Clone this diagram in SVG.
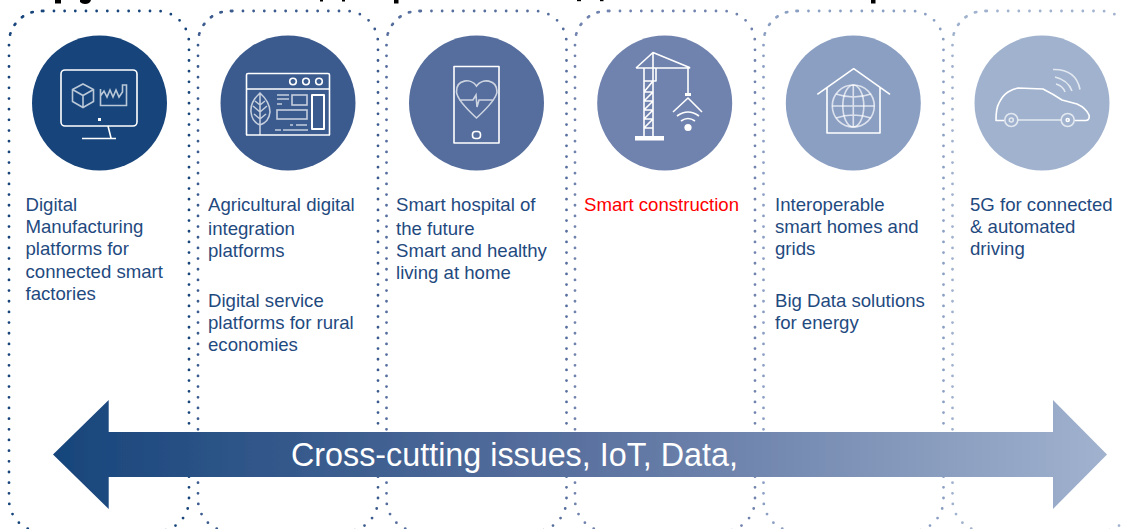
<svg xmlns="http://www.w3.org/2000/svg" width="1121" height="529" viewBox="0 0 1121 529">
<style>
text{font-family:"Liberation Sans",Arial,sans-serif}
.t{font-size:18.600px;fill:#1f4a80}
.d{fill:none;stroke-width:2.800;stroke-linecap:round;stroke-dasharray:0 10.67}
.i{fill:none;stroke:#fff;stroke-width:1.600;stroke-linejoin:round}
.s{fill:none;stroke:#fff;stroke-width:1.600;opacity:.7;filter:url(#soft)}
.w{fill:#fff}
.k{fill:#000}
</style>
<defs>
<path id="frame" d="M34.300 0H148A32 32 0 0 1 180 32V488.500A32 32 0 0 1 148 520.500H32A32 32 0 0 1 0 488.500V32A32 32 0 0 1 32 0ZM34.300 0H32A32 32 0 0 0 0 32"/>
<linearGradient id="ag" x1="53" x2="1107" y1="0" y2="0" gradientUnits="userSpaceOnUse">
<stop offset="0" stop-color="#17457b"/><stop offset=".5" stop-color="#5a719f"/><stop offset="1" stop-color="#a0b2ce"/>
</linearGradient>
<filter id="soft" x="-10%" y="-10%" width="120%" height="120%"><feGaussianBlur stdDeviation=".4"/></filter>
</defs>
<g id="title-fragments">
<rect class="k" x="55" y="0" width="6" height="3.500"/>
<path class="k" d="M80 0H91Q90 4 85 4Q82 4 80 2Z"/>
<rect class="k" x="320" y="0" width="3" height="1.500"/>
<rect class="k" x="342" y="0" width="3" height="1.500"/>
<rect class="k" x="394" y="0" width="4.500" height="3.500"/>
<rect class="k" x="577" y="0" width="4" height="1.200"/>
<rect class="k" x="600" y="0" width="3.500" height="1.200"/>
<rect class="k" x="871" y="0" width="4.500" height="3.500"/>
</g>
<g id="panel-1">
<use href="#frame" x="9" y="11" class="d" stroke="#17457b"/>
<circle cx="99.500" cy="103" r="67.500" fill="#17457b"/>
<rect class="i" x="61" y="70" width="76" height="56" rx="4"/>
<path class="i" d="M108 126L111 138M82 138.500H116"/>
<rect class="w" x="98" y="118" width="3" height="3"/>
<path class="s" d="M83 84L93.500 89.500V101.500L83 107.500L72.500 101.500V89.500ZM72.500 89.500L83 95.500L93.500 89.500M83 95.500V107.500"/>
<path class="s" d="M100.500 105.500H126.500V85H122.500V92L119 97L116 90L113 97L110 90L107 97L104 91L100.500 96V89ZM100.500 96V105.500"/>
<text class="t"><tspan x="25.500" y="211">Digital</tspan><tspan x="25.500" y="233">Manufacturing</tspan><tspan x="25.500" y="255">platforms for</tspan><tspan x="25.500" y="278">connected smart</tspan><tspan x="25.500" y="300">factories</tspan></text>
</g>
<g id="panel-2">
<use href="#frame" x="198" y="11" class="d" stroke="#3b5a8e"/>
<circle cx="288" cy="103" r="67.500" fill="#3b5a8e"/>
<path class="i" d="M246.500 89V75Q246.500 73.500 248 73.500H328Q329.500 73.500 329.500 75V135M246.500 89V135M246 89H330M246 135H330"/>
<circle class="i" cx="293" cy="81.500" r="3.300"/><circle class="i" cx="306" cy="81.500" r="3.300"/><circle class="i" cx="319" cy="81.500" r="3.300"/>
<rect class="i" x="312" y="95" width="12" height="34" style="stroke-width:2"/>
<path class="s" d="M260 93Q250 102 251 112Q252 122 260 125Q269 122 270 112Q270 102 260 93ZM260 93V135M260 105L265 101M260 112L267 106M260 119L266 114M260 105L255 101M260 112L253 106M260 119L254 114"/>
<rect class="s" x="292" y="95" width="15" height="10"/><rect class="s" x="277" y="110" width="30" height="9"/>
<path class="s" d="M277 95H289M277 99H289M277 104H282M275 130H281M283 130H308M290 125H293M296 125H307"/>
<text class="t"><tspan x="208" y="211">Agricultural digital</tspan><tspan x="208" y="235">integration</tspan><tspan x="208" y="257">platforms</tspan><tspan x="208" y="307">Digital service</tspan><tspan x="208" y="329">platforms for rural</tspan><tspan x="208" y="351">economies</tspan></text>
</g>
<g id="panel-3">
<use href="#frame" x="386.500" y="11" class="d" stroke="#566e9d"/>
<circle cx="476.500" cy="103" r="67.500" fill="#566e9d"/>
<rect class="i" x="454" y="66.500" width="45" height="76.500"/>
<rect class="i" x="472.500" y="131.500" width="8" height="7" rx="3"/>
<path class="s" d="M476.500 86C471 78 456 79 456.500 92Q457 100 476.500 118Q496 100 497 92C497 79 482 78 476.500 86ZM459 100H473L476 95L477 107L479 100H494"/>
<text class="t"><tspan x="396" y="211">Smart hospital of</tspan><tspan x="396" y="235">the future</tspan><tspan x="396" y="257">Smart and healthy</tspan><tspan x="396" y="279">living at home</tspan></text>
</g>
<g id="panel-4">
<use href="#frame" x="575" y="11" class="d" stroke="#7082ae"/>
<circle cx="664.700" cy="103" r="67.500" fill="#7082ae"/>
<path class="i" d="M636 68L653 52.500L689.500 67.500V68H636M653 52.500V137M644 68V137M644 81H656V68M644 92L653 81M644 92H653M644 101L653 92M644 101H653M644 110L653 101M644 110H653M644 119L653 110M644 119H653M644 128L653 119M644 128H653M688 68V94M673 112L688 98L702 112"/>
<rect class="w" x="635" y="136" width="29" height="4.500"/>
<rect class="w" x="685" y="93" width="6" height="3"/>
<path class="i" d="M677 116Q688 108 699 116M681 121Q688 116 695 121"/>
<circle class="w" cx="688" cy="127.500" r="3.600"/>
<text x="584" y="211" class="t" style="fill:#f00">Smart construction</text>
</g>
<g id="panel-5">
<use href="#frame" x="763.500" y="11" class="d" stroke="#8b9fc3"/>
<circle cx="853.300" cy="103" r="67.500" fill="#8b9fc3"/>
<path class="i" d="M817.300 94.300L853.700 68.700L890 94.300M827 87V133H880V87"/>
<circle class="s" cx="853.300" cy="106" r="21"/><ellipse class="s" cx="853.300" cy="106" rx="10.500" ry="21"/><path class="s" d="M853.300 85V127M832.300 106H874.300M836 94Q853.300 100 871 94M836 118Q853.300 112 871 118"/>
<text class="t"><tspan x="775" y="211">Interoperable</tspan><tspan x="775" y="233">smart homes and</tspan><tspan x="775" y="255">grids</tspan><tspan x="775" y="307">Big Data solutions</tspan><tspan x="775" y="329">for energy</tspan></text>
</g>
<g id="panel-6">
<use href="#frame" x="952.500" y="11" class="d" stroke="#a0b2ce"/>
<circle cx="1042" cy="103" r="67.500" fill="#a0b2ce"/>
<path class="i" d="M1004 120.500H996Q996 108 999 103Q1003 95 1008 92Q1013 89 1018 88L1043 89Q1053 94 1062 100L1077 104Q1086 108 1089 115Q1090 120 1086 120.500H1075"/>
<path class="s" d="M1018 120H1061M1053 69.500Q1076 69 1080 89.500M1055 77Q1068 80 1072 91M1056 84Q1063 86 1065 92"/>
<circle class="s" cx="1011.300" cy="120" r="6.500"/><circle class="s" cx="1067.700" cy="120" r="6.500"/>
<circle class="s" cx="1011.300" cy="120" r="2"/><circle class="i" cx="1067.700" cy="120" r="1.500"/>
<text class="t"><tspan x="970" y="211">5G for connected</tspan><tspan x="970" y="233">&amp; automated</tspan><tspan x="970" y="255">driving</tspan></text>
</g>
<g id="connectors">
<path d="M53 454.500L108.700 400V432H1053V400L1107 454.500L1053 509V477H108.700V509Z" fill="url(#ag)" filter="url(#soft)"/>
<text x="291" y="466" style="font-size:32.300px;fill:#fff">Cross-cutting issues, IoT, Data,</text>
</g>
</svg>
